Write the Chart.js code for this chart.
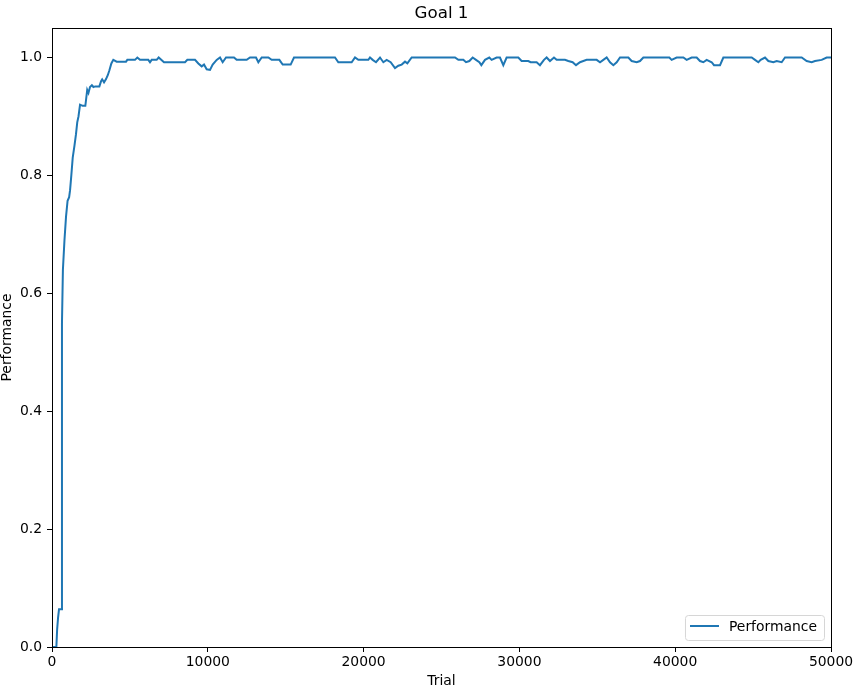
<!DOCTYPE html>
<html>
<head>
<meta charset="utf-8">
<script src="https://cdn.jsdelivr.net/npm/chart.js@4/dist/chart.umd.min.js"></script>
<style>
  html, body { margin: 0; padding: 0; background: #fff; }
  #wrap { width: 866px; height: 688px; }
</style>
</head>
<body>
<div id="wrap"><canvas id="perfChart" width="866" height="688"></canvas></div>
<script>
// values
const trials = [
    0, 280, 330, 390, 450, 580, 640, 700, 800, 900, 1000, 1100, 1160, 1240, 1330,
    1440, 1540, 1620, 1700, 1800, 1970, 2140, 2260, 2340, 2440, 2560, 2660, 2780, 3040,
    3150, 3220, 3340, 3460, 3580, 3680, 3810, 3935, 4150, 4750, 4835, 5327, 5476, 5648,
    6182, 6290, 6397, 6718, 6847, 7189, 8537, 8686, 9179, 9393, 9607, 9757, 9928, 10141,
    10313, 10570, 10783, 10955, 11169, 11682, 11853, 12495, 12709, 13094, 13244, 13458,
    13886, 14100, 14592, 14806, 15319, 15533, 18164, 18378, 19234, 19448, 19662, 20304,
    20411, 20582, 20796, 21053, 21267, 21481, 21738, 22016, 22230, 22444, 22658, 22808,
    23085, 25867, 26081, 26402, 26573, 26787, 27001, 27215, 27429, 27557, 27792, 28068,
    28218, 28539, 28753, 28967, 29180, 29929, 30143, 30571, 30721, 31106, 31320, 31577,
    31748, 31962, 32219, 32390, 32925, 33139, 33418, 33633, 33889, 34317, 34960, 35174,
    35388, 35602, 35816, 36030, 36244, 36457, 36992, 37206, 37527, 37741, 37955, 39623,
    39773, 40094, 40522, 40736, 41057, 41378, 41592, 41806, 42020, 42341, 42491, 42876,
    43090, 44909, 45123, 45337, 45487, 45765, 45979, 46300, 46514, 46835, 47048, 48118,
    48439, 48760, 48974, 49401, 49722, 50000
];
const performance = [
    0, 0, 0.03, 0.05, 0.064, 0.064, 0.55, 0.64, 0.69, 0.73, 0.757, 0.763, 0.775, 0.80, 0.83,
    0.85, 0.87, 0.89, 0.90, 0.92, 0.918, 0.918, 0.945, 0.94, 0.95, 0.953, 0.95, 0.951, 0.951,
    0.96, 0.963, 0.958, 0.963, 0.97, 0.978, 0.99, 0.996, 0.993, 0.993, 0.996, 0.996, 1.0, 0.996,
    0.996, 0.992, 0.996, 0.996, 1.0, 0.992, 0.992, 0.996, 0.996, 0.99, 0.985, 0.988, 0.98, 0.979,
    0.988, 0.996, 1.0, 0.992, 1.0, 1.0, 0.996, 0.996, 1.0, 1.0, 0.992, 1.0,
    1.0, 0.996, 0.996, 0.988, 0.988, 1.0, 1.0, 0.992, 0.992, 1.0, 0.996, 0.996,
    1.0, 0.996, 0.992, 1.0, 0.992, 0.996, 0.992, 0.982, 0.986, 0.988, 0.993, 0.99,
    1.0, 1.0, 0.996, 0.996, 0.992, 0.994, 1.0, 0.996, 0.992, 0.987, 0.996, 1.0,
    0.996, 1.0, 1.0, 0.987, 1.0, 1.0, 0.994, 0.994, 0.992, 0.992, 0.987, 0.996,
    1.0, 0.994, 1.0, 0.996, 0.996, 0.994, 0.992, 0.987, 0.992, 0.996, 0.996, 0.992,
    0.996, 1.0, 0.992, 0.987, 0.992, 1.0, 1.0, 0.994, 0.992, 0.994, 1.0, 1.0,
    0.996, 1.0, 1.0, 0.996, 1.0, 1.0, 0.994, 0.992, 0.996, 0.992, 0.987, 0.987,
    1.0, 1.0, 0.996, 0.992, 0.996, 1.0, 0.994, 0.992, 0.994, 0.992, 1.0, 1.0,
    0.994, 0.992, 0.994, 0.996, 1.0, 1.0
];
const xTicks = [0, 10000, 20000, 30000, 40000, 50000];
const yTicks = [0, 0.2, 0.4, 0.6, 0.8, 1.0];

const FONT = "'DejaVu Sans', sans-serif";
const lineColor = '#1f77b4';

// matplotlib-style frame round the axes + legend box in the lower right
const framePlugin = {
    id: 'frame',
    afterDraw(chart) {
        const {ctx, chartArea} = chart;
        const a = chartArea;
        ctx.save();
        ctx.strokeStyle = '#000';
        ctx.lineWidth = 1;
        ctx.strokeRect(Math.round(a.left) + 0.5, Math.round(a.top) + 0.5,
            Math.round(a.right - a.left), Math.round(a.bottom - a.top));

        // legend
        const label = chart.data.datasets[0].label;
        ctx.font = '13.9px ' + FONT;
        const tw = ctx.measureText(label).width;
        const w = 44 + tw + 7, h = 25;
        const x = a.right - 7 - w, y = a.bottom - 7 - h;
        ctx.beginPath();
        ctx.roundRect(x + 0.5, y + 0.5, w, h, 3);
        ctx.fillStyle = 'rgba(255,255,255,0.8)';
        ctx.fill();
        ctx.strokeStyle = '#d6d6d6';
        ctx.stroke();
        ctx.beginPath();
        ctx.strokeStyle = lineColor;
        ctx.lineWidth = 2;
        ctx.moveTo(x + 5, y + 11);
        ctx.lineTo(x + 34, y + 11);
        ctx.stroke();
        ctx.fillStyle = '#000';
        ctx.textBaseline = 'alphabetic';
        ctx.fillText(label, x + 44, y + 16);
        ctx.restore();
    }
};

new Chart('perfChart', {
    type: 'line',
    data: {
        datasets: [{
            label: 'Performance',
            data: trials.map((t, i) => ({x: t, y: performance[i]})),
            borderColor: lineColor,
            backgroundColor: lineColor,
            borderWidth: 2,
            pointRadius: 0,
            tension: 0,
            fill: false
        }]
    },
    options: {
        responsive: false,
        animation: false,
        events: [],
        layout: { padding: { left: 0, right: 35, top: 0, bottom: 0 } },
        plugins: {
            legend: { display: false },
            tooltip: { enabled: false },
            title: {
                display: true,
                text: 'Goal 1',
                fullSize: false,
                color: '#000',
                font: { family: FONT, size: 16.7, weight: 'normal', lineHeight: 1.2 },
                padding: { top: 3.5, bottom: 4.5 }
            }
        },
        scales: {
            x: {
                type: 'linear',
                min: 0,
                max: 50000,
                afterBuildTicks: (scale) => { scale.ticks = xTicks.map(v => ({value: v})); },
                afterFit: (scale) => { scale.height = 41; },
                ticks: {
                    color: '#000',
                    font: { family: FONT, size: 13.9 },
                    padding: 2,
                    maxRotation: 0,
                    callback: (v) => String(v)
                },
                grid: { display: true, drawOnChartArea: false, tickLength: 5, tickColor: '#000', tickWidth: 1 },
                border: { display: true, color: '#000', width: 1 },
                title: {
                    display: true,
                    text: 'Trial',
                    color: '#000',
                    font: { family: FONT, size: 13.9, lineHeight: 1 },
                    padding: { top: 0, bottom: 0 }
                }
            },
            y: {
                type: 'linear',
                min: 0,
                max: 1.05,
                afterBuildTicks: (scale) => { scale.ticks = yTicks.map(v => ({value: v})); },
                afterFit: (scale) => { scale.width = 52; },
                ticks: {
                    color: '#000',
                    font: { family: FONT, size: 13.9 },
                    padding: 5,
                    callback: (v) => v.toFixed(1)
                },
                grid: { display: true, drawOnChartArea: false, tickLength: 5, tickColor: '#000', tickWidth: 1 },
                border: { display: true, color: '#000', width: 1 },
                title: {
                    display: true,
                    text: 'Performance',
                    color: '#000',
                    font: { family: FONT, size: 13.9, lineHeight: 1 },
                    padding: { top: 0, bottom: 0 }
                }
            }
        }
    },
    plugins: [framePlugin]
});
</script>
</body>
</html>
